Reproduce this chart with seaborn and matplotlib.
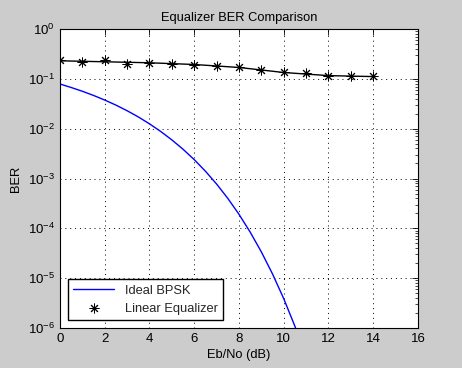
import seaborn as sns
import matplotlib.pyplot as plt

# Ideal BPSK curve
ebno_ideal = [0, 0.5, 1, 1.5, 2, 2.5, 3, 3.5, 4, 4.5, 5, 5.5, 6, 6.5, 7, 7.5,
              8, 8.5, 9, 9.5, 10, 10.5, 11]
ber_ideal = [7.87e-2, 6.70e-2, 5.63e-2, 4.64e-2, 3.75e-2, 2.97e-2, 2.29e-2,
             1.72e-2, 1.25e-2, 8.79e-3, 5.95e-3, 3.86e-3, 2.39e-3, 1.40e-3,
             7.73e-4, 3.99e-4, 1.91e-4, 8.40e-5, 3.36e-5, 1.21e-5, 3.87e-6,
             1.08e-6, 2.61e-7]

# Linear equalizer: simulated points and smooth trend line
ebno_eq = [0, 1, 2, 3, 4, 5, 6, 7, 8, 9, 10, 11, 12, 13, 14]
ber_eq = [0.238, 0.220, 0.241, 0.203, 0.207, 0.194, 0.191, 0.177, 0.169,
          0.150, 0.134, 0.128, 0.116, 0.116, 0.115]
ebno_trend = [0, 2, 4, 6, 8, 10, 12, 14]
ber_trend = [0.230, 0.220, 0.210, 0.194, 0.169, 0.134, 0.116, 0.111]

sns.set_theme(style="white")
plt.rcParams['font.family'] = ['Liberation Sans', 'DejaVu Sans']

fig = plt.figure(figsize=(4.62, 3.68), dpi=100, facecolor='#cccccc')
ax = fig.add_axes([60 / 462, 40 / 368, 358 / 462, 299 / 368])
ax.set_facecolor('white')

sns.lineplot(x=ebno_ideal, y=ber_ideal, color='blue', linewidth=1, ax=ax,
             label='Ideal BPSK')
sns.lineplot(x=ebno_trend, y=ber_trend, color='black', linewidth=1, ax=ax,
             label='_nolegend_')
sns.lineplot(x=ebno_eq, y=ber_eq, color='black', linestyle='', ax=ax,
             marker=(8, 2, 0), markersize=7, markeredgewidth=0.7,
             markeredgecolor='black', label='Linear Equalizer')

ax.set_yscale('log')
ax.set_xlim(0, 16)
ax.set_ylim(1e-6, 1)
ax.set_xticks(range(0, 17, 2))

for s in ax.spines.values():
    s.set_color('black')
    s.set_linewidth(0.8)
ax.tick_params(which='both', direction='in', top=True, right=True,
               colors='black', labelsize=9.5)
ax.tick_params(which='major', length=4, width=0.6)
ax.tick_params(which='minor', length=2, width=0.5)
ax.grid(True, which='major', linestyle=(0, (1, 4)), color='black',
        linewidth=0.7)

ax.set_title('Equalizer BER Comparison', fontsize=9.3, color='black', pad=6)
ax.set_xlabel('Eb/No (dB)', fontsize=9.3, color='black', labelpad=3)
ax.set_ylabel('BER', fontsize=9.3, color='black')

ax.legend(loc='lower left', fancybox=False, edgecolor='black', framealpha=1,
          fontsize=9.3, borderaxespad=0.6, handlelength=3.2)

plt.savefig('out.png', dpi=100, facecolor=fig.get_facecolor())
